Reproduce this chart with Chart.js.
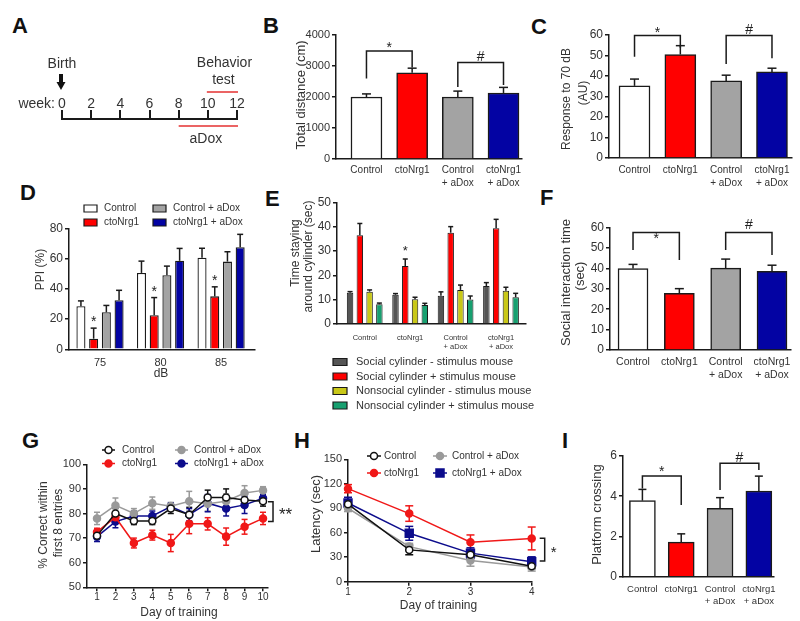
<!DOCTYPE html>
<html>
<head>
<meta charset="utf-8">
<title>ctoNrg1 behaviour panels</title>
<script src="https://cdn.jsdelivr.net/npm/chart.js@4.4.1/dist/chart.umd.min.js"></script>
<style>
  body { margin: 0; background: #fff; }
  #page { position: relative; width: 800px; height: 621px; overflow: hidden; background: #fff; }
  .panel { position: absolute; }
  .letter { position: absolute; font: bold 22px/22px 'Liberation Sans', Arial, sans-serif; color: #111; }
</style>
</head>
<body>
<div id="page">
  <div class="letter" style="left:12px;top:15px">A</div>
  <div class="letter" style="left:263px;top:15px">B</div>
  <div class="letter" style="left:531px;top:16px">C</div>
  <div class="letter" style="left:20px;top:182px">D</div>
  <div class="letter" style="left:265px;top:188px">E</div>
  <div class="letter" style="left:540px;top:187px">F</div>
  <div class="letter" style="left:22px;top:430px">G</div>
  <div class="letter" style="left:294px;top:430px">H</div>
  <div class="letter" style="left:562px;top:430px">I</div>
</div>
<script>
// ---------- data ----------

// A: timeline in weeks
const weekTicks = [0, 2, 4, 6, 8, 10, 12]
const birthWeek = 0
const testWeeks = [10, 12]
const aDoxWeeks = [8, 12]

// the four groups
const groups = ['Control', 'ctoNrg1', 'Control + aDox', 'ctoNrg1 + aDox']
const groupTicks = [['Control'], ['ctoNrg1'], ['Control', '+ aDox'], ['ctoNrg1', '+ aDox']]
const groupIndex = [0, 1, 2, 3]

// B: total distance (cm)
const distMean = [2000, 2780, 2000, 2130]
const distSem = [100, 150, 190, 180]
const distBrackets = [
  {from: 0, to: 1, top: 3480, left: 2600, right: 2950, mark: '*', markAt: 3680},
  {from: 2, to: 3, top: 3110, left: 2320, right: 2390, mark: '#', markAt: 3300}
]

// C: response to 70 dB (AU)
const startleMean = [35.2, 50.5, 37.6, 42]
const startleSem = [3.3, 4.3, 2.8, 1.8]
const startleBrackets = [
  {from: 0, to: 1, top: 59.7, left: 49.4, right: 53.8, mark: '*', markAt: 62.4},
  {from: 2, to: 3, top: 59.7, left: 45.9, right: 48.6, mark: '#', markAt: 62.6}
]

// D: PPI (%)
const dbLevels = [75, 80, 85]
const ppiControl = [28.5, 50.5, 60.5]
const ppiCto = [7, 22.5, 35]
const ppiControlDox = [24.5, 49, 58]
const ppiCtoDox = [32.5, 58.5, 67.5]
const ppiControlSem = [3.5, 7.8, 6.3]
const ppiCtoSem = [7, 11.7, 6.3]
const ppiControlDoxSem = [4.5, 6, 6.5]
const ppiCtoDoxSem = [6.5, 8.2, 8.5]
const ppiCtoSig = [true, true, true]

// E: time around cylinder (sec)
const cylinderSeries = ['Social cylinder - stimulus mouse', 'Social cylinder + stimulus mouse',
  'Nonsocial cylinder - stimulus mouse', 'Nonsocial cylinder + stimulus mouse']
const socialEmpty = [12.8, 12, 11.6, 15.6]
const socialMouse = [36.5, 23.8, 37.5, 39.3]
const nonsocialEmpty = [13.3, 10.2, 14, 13.7]
const nonsocialMouse = [8.1, 7.8, 10.1, 11]
const socialEmptySem = [0.5, 0.5, 1.6, 1.4]
const socialMouseSem = [4.8, 2.9, 2.5, 3.7]
const nonsocialEmptySem = [0.7, 0.8, 2, 1.4]
const nonsocialMouseSem = [0.5, 0.7, 1.4, 1.6]
const socialMouseSig = [false, true, false, false]

// F: social interaction time (sec)
const socialTimeMean = [40, 27.8, 40.2, 38.6]
const socialTimeSem = [2, 2.3, 4.4, 3]
const socialTimeBrackets = [
  {from: 0, to: 1, top: 57.7, left: 49, right: 44.2, mark: '*', markAt: 55.7},
  {from: 2, to: 3, top: 57.7, left: 49, right: 46.6, mark: '#', markAt: 61.3}
]

// G: % correct within first 8 entries
const mazeDays = [1, 2, 3, 4, 5, 6, 7, 8, 9, 10]
const mazeControl = [71, 80, 77, 77, 82, 79.5, 86.5, 86.5, 85.5, 85]
const mazeCto = [72.5, 78.5, 68, 71.2, 68, 75.8, 75.8, 70.6, 74.6, 78]
const mazeControlDox = [78, 83.3, 80, 84.2, 83, 85, 84, 85, 88.3, 89.4]
const mazeCtoDox = [70.6, 76.7, 79, 79, 82.8, 79.5, 84.2, 82, 83.5, 86.2]
const mazeControlSem = [1.5, 2, 1.5, 1.5, 2, 3, 3, 3.5, 3, 2]
const mazeCtoSem = [1.5, 2, 2, 2, 3.5, 4, 2.5, 3.5, 3, 2.5]
const mazeControlDoxSem = [2.5, 3, 2, 2.5, 1.5, 4, 3, 3, 3, 1.5]
const mazeCtoDoxSem = [2, 2.5, 2, 2, 1.5, 2.5, 3.5, 3, 3.5, 1.5]
const mazeBracket = [84.8, 76.7]

// H: latency (sec)
const waterDays = [1, 2, 3, 4]
const latControl = [95, 39, 33, 19]
const latCto = [114, 83.5, 48.3, 53]
const latControlDox = [90, 43, 26, 18]
const latCtoDox = [96.5, 59.3, 35, 24.5]
const latControlSem = [5, 6, 4, 3]
const latCtoSem = [5, 9.5, 9, 14]
const latControlDoxSem = [4, 4, 7, 5]
const latCtoDoxSem = [7, 8.5, 6.5, 6]
const latBracket = [53.2, 25.4]

// I: platform crossing
const crossMean = [3.78, 1.72, 3.4, 4.26]
const crossSem = [0.56, 0.41, 0.53, 0.74]
const crossBrackets = [
  {from: 0, to: 1, top: 5.0, left: 4.39, right: 3.56, mark: '*', markAt: 5.34},
  {from: 2, to: 3, top: 5.64, left: 4.31, right: 5.3, mark: '#', markAt: 5.88}
]

// ---------- style ----------
const INK = '#1a1a1a'
const TXT = '#333'
const groupColors = ['#ffffff', '#ff0000', '#a3a3a3', '#0303a3']
const lineColors = ['#111111', '#f01818', '#9a9a9a', '#0c0c8c']
const cylinderColors = ['#555555', '#ff0000', '#c9c818', '#17a070']

Chart.defaults.font.family = "'Liberation Sans', Arial, sans-serif"
Chart.defaults.color = TXT
Chart.defaults.animation = false
Chart.defaults.events = []
Chart.defaults.plugins.legend.display = false
Chart.defaults.plugins.tooltip.enabled = false

const page = document.getElementById('page')

// ---------- drawing helpers ----------
function txt(ctx, s, x, y, size, o = {}) {
  ctx.save()
  ctx.font = (o.bold ? 'bold ' : '') + size + "px 'Liberation Sans', Arial, sans-serif"
  ctx.fillStyle = o.color || TXT
  ctx.textAlign = o.align || 'center'
  ctx.textBaseline = 'middle'
  ctx.translate(x, y)
  if (o.vertical) ctx.rotate(-Math.PI / 2)
  ctx.fillText(s, 0, 0)
  ctx.restore()
}

function seg(ctx, x1, y1, x2, y2, color, w) {
  ctx.beginPath()
  ctx.moveTo(x1, y1)
  ctx.lineTo(x2, y2)
  ctx.strokeStyle = color || INK
  ctx.lineWidth = w || 1.5
  ctx.stroke()
}

function mark(ctx, s, x, y, size) {
  // asterisks sit high in the em box, push them down so the glyph centre is at y
  const dy = s[0] === '*' ? size * 0.22 : 0
  txt(ctx, s, x, y + dy, size, {color: '#222'})
}

function titles(ctx, lines, size) {
  lines.forEach(l => txt(ctx, l.t, l.x, l.y, size, {vertical: true}))
}

function barErrors(ctx, s, chart, sems, cap) {
  sems.forEach((sem, i) => {
    chart.getDatasetMeta(i).data.forEach((bar, j) => {
      const x = bar.x + s.ox
      const yTop = s.y(chart.data.datasets[i].data[j].y + sem[j])
      seg(ctx, x, bar.y + s.oy, x, yTop)
      seg(ctx, x - cap / 2, yTop, x + cap / 2, yTop)
    })
  })
}

function starsOver(ctx, s, chart, ds, flags, sem, gap, size) {
  chart.getDatasetMeta(ds).data.forEach((bar, j) => {
    if (!flags[j]) return
    const yTop = s.y(chart.data.datasets[ds].data[j].y + sem[j])
    mark(ctx, '*', bar.x + s.ox, yTop - gap, size)
  })
}

function pointErrors(ctx, s, chart, sems, cap) {
  sems.forEach((sem, i) => {
    const color = chart.data.datasets[i].borderColor
    chart.data.datasets[i].data.forEach((p, j) => {
      const x = s.x(p.x), y1 = s.y(p.y + sem[j]), y2 = s.y(p.y - sem[j])
      seg(ctx, x, y1, x, y2, color)
      seg(ctx, x - cap / 2, y1, x + cap / 2, y1, color)
      seg(ctx, x - cap / 2, y2, x + cap / 2, y2, color)
    })
  })
}

function drawBrackets(ctx, s, list, size) {
  list.forEach(b => {
    const x1 = s.x(b.from), x2 = s.x(b.to), yl = s.y(b.top)
    ctx.beginPath()
    ctx.moveTo(x1, s.y(b.left))
    ctx.lineTo(x1, yl)
    ctx.lineTo(x2, yl)
    ctx.lineTo(x2, s.y(b.right))
    ctx.strokeStyle = INK
    ctx.lineWidth = 1.5
    ctx.stroke()
    mark(ctx, b.mark, (x1 + x2) / 2, s.y(b.markAt), size)
  })
}

function sideBracket(ctx, s, xv, range, dx1, dx2, label, dxl, size) {
  const x = s.x(xv)
  const yA = s.y(range[0]), yB = s.y(range[1])
  ctx.beginPath()
  ctx.moveTo(x + dx1, yA)
  ctx.lineTo(x + dx2, yA)
  ctx.lineTo(x + dx2, yB)
  ctx.lineTo(x + dx1, yB)
  ctx.strokeStyle = INK
  ctx.lineWidth = 1.5
  ctx.stroke()
  mark(ctx, label, x + dxl, (yA + yB) / 2, size)
}

function boxKey(ctx, x, y, w, h, fill, label, tx, size) {
  ctx.beginPath()
  ctx.rect(x, y - h / 2, w, h)
  ctx.fillStyle = fill
  ctx.fill()
  ctx.strokeStyle = INK
  ctx.lineWidth = 1.2
  ctx.stroke()
  txt(ctx, label, tx, y, size, {align: 'left'})
}

function marker(ctx, style, x, y, r, fill, stroke) {
  ctx.beginPath()
  if (style === 'rect') ctx.rect(x - r, y - r, 2 * r, 2 * r)
  else ctx.arc(x, y, r, 0, Math.PI * 2)
  ctx.fillStyle = fill
  ctx.fill()
  ctx.strokeStyle = stroke
  ctx.lineWidth = 1.5
  ctx.stroke()
}

function lineKey(ctx, x1, x2, y, color, style, fill, label, tx, size) {
  seg(ctx, x1, y, x2, y, color, 1.5)
  marker(ctx, style, (x1 + x2) / 2, y, style === 'rect' ? 4 : 3.5, fill, color)
  txt(ctx, label, tx, y, size, {align: 'left'})
}

// ---------- axes ----------
function valAxis(min, max, step, size) {
  return {
    min, max,
    ticks: {stepSize: step, font: {size}, padding: 2, callback: v => String(v)},
    grid: {drawOnChartArea: false, tickLength: 4, color: INK, lineWidth: 1.5},
    border: {color: INK, width: 1.5}
  }
}

function idxAxis(min, max, values, labels, size, pad, marks) {
  return {
    type: 'linear', min, max, offset: false,
    afterBuildTicks: s => { s.ticks = values.map(v => ({value: v})) },
    ticks: {font: {size, lineHeight: 1.25}, padding: pad, autoSkip: false, maxRotation: 0, minRotation: 0,
            callback: (v, i) => labels[i]},
    grid: {display: marks, offset: false, drawOnChartArea: false, tickLength: 4, color: INK, lineWidth: 1.5},
    border: {color: INK, width: 1.5}
  }
}

// box = canvas [left, top, width, height]; area = plot [x0, y0, x1, y1], page pixels
function makePanel(box, area, config, hooks) {
  const [left, top, width, height] = box
  const holder = document.createElement('div')
  holder.className = 'panel'
  holder.style.cssText = `left:${left}px;top:${top}px;width:${width}px;height:${height}px`
  const canvas = document.createElement('canvas')
  canvas.width = width
  canvas.height = height
  holder.appendChild(canvas)
  page.appendChild(holder)

  const o = config.options
  o.responsive = false
  const sc = o.scales
  if (sc.x.position === 'top') {
    o.layout = {padding: {left: area[0] - left, top: 0, right: left + width - area[2], bottom: 0}}
    sc.x.afterFit = s => { s.height = area[1] - top }
  } else {
    o.layout = {padding: {left: 0, top: area[1] - top, right: left + width - area[2], bottom: 0}}
    sc.x.afterFit = s => { s.height = top + height - area[3] }
    sc.y.afterFit = s => { s.width = area[0] - left }
  }

  function paint(chart, fn) {
    const ctx = chart.ctx
    const s = {
      ox: left, oy: top,
      x: v => chart.scales.x.getPixelForValue(v) + left,
      y: v => chart.scales.y.getPixelForValue(v) + top
    }
    ctx.save()
    ctx.translate(-left, -top)
    fn(ctx, s, chart)
    ctx.restore()
  }
  config.plugins = [{
    id: 'extras',
    beforeDatasetsDraw(chart) { if (hooks.under) paint(chart, hooks.under) },
    afterDraw(chart) { if (hooks.over) paint(chart, hooks.over) }
  }]
  return new Chart(canvas, config)
}

function groupBarPanel(box, area, mean, sem, p) {
  return makePanel(box, area, {
    type: 'bar',
    data: {datasets: [{
      data: groupIndex.map(i => ({x: i, y: mean[i]})),
      backgroundColor: groupColors, borderColor: INK, borderWidth: 1.5, barThickness: p.bar
    }]},
    options: {scales: {
      x: idxAxis(p.xr[0], p.xr[1], groupIndex, groupTicks, p.tick, p.pad, false),
      y: valAxis(p.yr[0], p.yr[1], p.yr[2], p.ytick)
    }}
  }, {over: (ctx, s, chart) => {
    barErrors(ctx, s, chart, [sem], p.cap)
    drawBrackets(ctx, s, p.brackets, 14)
    titles(ctx, p.title, p.tsize)
  }})
}

function lineSets(series, days, styles, radius) {
  return series.map((vals, i) => ({
    label: groups[i],
    data: days.map((d, j) => ({x: d, y: vals[j]})),
    borderColor: lineColors[i], borderWidth: 1.5, tension: 0,
    pointStyle: styles[i], pointRadius: styles[i] === 'rect' ? 5.6 : radius,
    pointBackgroundColor: i === 0 ? '#ffffff' : lineColors[i],
    pointBorderColor: lineColors[i], pointBorderWidth: 1.5,
    clip: false
  }))
}

// ---------- A: timeline ----------
makePanel([0, 0, 262, 170], [62, 119, 237, 170], {
  type: 'scatter',
  data: {datasets: []},
  options: {scales: {
    x: {type: 'linear', position: 'top', min: 0, max: 12,
        afterBuildTicks: s => { s.ticks = weekTicks.map(v => ({value: v})) },
        ticks: {font: {size: 14}, padding: -3, autoSkip: false, maxRotation: 0},
        grid: {drawOnChartArea: false, tickLength: 9, color: INK, lineWidth: 2},
        border: {color: INK, width: 2}},
    y: {display: false}
  }}
}, {over: (ctx, s) => {
  const xb = s.x(birthWeek)
  txt(ctx, 'week:', xb - 7, 104, 14, {align: 'right'})
  txt(ctx, 'Birth', xb, 64, 14)
  ctx.fillStyle = '#111'
  ctx.fillRect(xb - 3, 74, 4, 9)
  ctx.beginPath()
  ctx.moveTo(xb - 5.5, 82)
  ctx.lineTo(xb + 3.5, 82)
  ctx.lineTo(xb - 1, 90)
  ctx.closePath()
  ctx.fill()
  const t0 = s.x(testWeeks[0]), t1 = s.x(testWeeks[1])
  seg(ctx, t0 - 1, 92, t1 + 1, 92, '#e53030', 1.5)
  txt(ctx, 'Behavior', (t0 + t1) / 2 + 2, 63, 14)
  txt(ctx, 'test', (t0 + t1) / 2 + 1, 80, 14)
  const a0 = s.x(aDoxWeeks[0]), a1 = s.x(aDoxWeeks[1])
  seg(ctx, a0, 126, a1 + 1, 126, '#e53030', 1.5)
  txt(ctx, 'aDox', (a0 + a1) / 2 - 2, 139, 14)
}})

// ---------- B, C, F, I: single bar groups ----------
groupBarPanel([262, 22, 268, 170], [336, 35, 522, 159], distMean, distSem, {
  bar: 31, xr: [-0.667, 3.405], tick: 10, pad: 1, yr: [0, 4000, 1000], ytick: 11, cap: 9,
  brackets: distBrackets, tsize: 13, title: [{t: 'Total distance (cm)', x: 301, y: 95}]
})

groupBarPanel([530, 22, 270, 170], [609, 35, 792, 158], startleMean, startleSem, {
  bar: 31, xr: [-0.557, 3.437], tick: 10, pad: 2, yr: [0, 60, 10], ytick: 12, cap: 9,
  brackets: startleBrackets, tsize: 12,
  title: [{t: 'Response to 70 dB', x: 567, y: 99}, {t: '(AU)', x: 584, y: 93}]
})

groupBarPanel([545, 195, 255, 200], [610, 227.7, 791, 350], socialTimeMean, socialTimeSem, {
  bar: 30, xr: [-0.497, 3.41], tick: 10.5, pad: 1.5, yr: [0, 60, 10], ytick: 12, cap: 9,
  brackets: socialTimeBrackets, tsize: 13,
  title: [{t: 'Social interaction time', x: 566, y: 282.5}, {t: '(sec)', x: 580, y: 276}]
})

groupBarPanel([562, 440, 238, 181], [623, 456, 774, 576.7], crossMean, crossSem, {
  bar: 26, xr: [-0.5, 3.39], tick: 9.5, pad: 2.5, yr: [0, 6, 2], ytick: 12, cap: 8,
  brackets: crossBrackets, tsize: 13, title: [{t: 'Platform crossing', x: 597.5, y: 514.5}]
})

// ---------- D: PPI ----------
const ppiSeries = [ppiControl, ppiCto, ppiControlDox, ppiCtoDox]
const ppiSems = [ppiControlSem, ppiCtoSem, ppiControlDoxSem, ppiCtoDoxSem]
makePanel([0, 195, 265, 195], [69, 228.3, 255, 349.3], {
  type: 'bar',
  data: {datasets: ppiSeries.map((m, i) => ({
    label: groups[i],
    data: dbLevels.map((d, j) => ({x: d, y: m[j]})),
    backgroundColor: groupColors[i], borderColor: INK, borderWidth: 1.3,
    categoryPercentage: 0.84, barPercentage: 0.71
  }))},
  options: {scales: {
    x: idxAxis(72.44, 87.8, dbLevels, dbLevels.map(String), 11, 3, false),
    y: valAxis(0, 80, 20, 12)
  }}
}, {over: (ctx, s, chart) => {
  barErrors(ctx, s, chart, ppiSems, 6)
  starsOver(ctx, s, chart, 1, ppiCtoSig, ppiCtoSem, 9, 14)
  groups.forEach((g, i) => {
    const col = Math.floor(i / 2), row = i % 2
    boxKey(ctx, [84, 153][col], [208.5, 222.5][row], 13, 7, groupColors[i], g, [104, 173][col], 10)
  })
  titles(ctx, [{t: 'PPI (%)', x: 41, y: 269.5}], 12)
  txt(ctx, 'dB', 161, 374, 12)
}})

// ---------- E: three chamber ----------
const cylinderData = [socialEmpty, socialMouse, nonsocialEmpty, nonsocialMouse]
const cylinderSems = [socialEmptySem, socialMouseSem, nonsocialEmptySem, nonsocialMouseSem]
makePanel([280, 190, 260, 230], [337, 202.3, 526, 324], {
  type: 'bar',
  data: {datasets: cylinderData.map((m, i) => ({
    label: cylinderSeries[i],
    data: groupIndex.map(g => ({x: g, y: m[g]})),
    backgroundColor: cylinderColors[i], borderColor: INK, borderWidth: 1,
    categoryPercentage: 0.86, barPercentage: 0.66
  }))},
  options: {scales: {
    x: idxAxis(-0.61, 3.55, groupIndex, groupTicks, 7.5, 5, false),
    y: valAxis(0, 50, 10, 12)
  }}
}, {over: (ctx, s, chart) => {
  barErrors(ctx, s, chart, cylinderSems, 5)
  starsOver(ctx, s, chart, 1, socialMouseSig, socialMouseSem, 10.5, 13)
  cylinderSeries.forEach((name, i) => {
    boxKey(ctx, 333, [362, 376.5, 391, 405.5][i], 14, 7, cylinderColors[i], name, 356, 11)
  })
  titles(ctx, [{t: 'Time staying', x: 296, y: 253}, {t: 'around cylinder (sec)', x: 309, y: 256.5}], 12)
}})

// ---------- G: radial arm maze ----------
const mazeSeries = [mazeControl, mazeCto, mazeControlDox, mazeCtoDox]
const mazeSems = [mazeControlSem, mazeCtoSem, mazeControlDoxSem, mazeCtoDoxSem]
const mazeStyles = ['circle', 'circle', 'circle', 'circle']
makePanel([0, 440, 300, 181], [87, 464.3, 268, 587.3], {
  type: 'line',
  data: {datasets: lineSets(mazeSeries, mazeDays, mazeStyles, 3.5)},
  options: {scales: {
    x: idxAxis(0.458, 10.27, mazeDays, mazeDays.map(String), 10, 0, true),
    y: valAxis(50, 100, 10, 11)
  }}
}, {
  under: (ctx, s, chart) => pointErrors(ctx, s, chart, mazeSems, 6),
  over: (ctx, s) => {
    sideBracket(ctx, s, mazeDays[mazeDays.length - 1], mazeBracket, 5, 10, '**', 22.5, 17)
    groups.forEach((g, i) => {
      const col = Math.floor(i / 2), row = i % 2
      const x1 = [102, 175][col]
      lineKey(ctx, x1, x1 + 13, [450, 463.5][row], lineColors[i], mazeStyles[i],
        i === 0 ? '#ffffff' : lineColors[i], g, [122, 194][col], 10)
    })
    titles(ctx, [{t: '% Correct within', x: 43.5, y: 525}, {t: 'first 8 entries', x: 59, y: 523}], 12)
    txt(ctx, 'Day of training', 179, 612.5, 12)
  }
})

// ---------- H: water maze latency ----------
const latSeries = [latControl, latCto, latControlDox, latCtoDox]
const latSems = [latControlSem, latCtoSem, latControlDoxSem, latCtoDoxSem]
const latStyles = ['circle', 'circle', 'circle', 'rect']
makePanel([300, 440, 262, 181], [348, 459.3, 531.7, 581.7], {
  type: 'line',
  data: {datasets: lineSets(latSeries, waterDays, latStyles, 3.5)},
  options: {scales: {
    x: idxAxis(1, 4, waterDays, waterDays.map(String), 10, 0, true),
    y: valAxis(0, 150, 30, 11)
  }}
}, {
  under: (ctx, s, chart) => pointErrors(ctx, s, chart, latSems, 8),
  over: (ctx, s) => {
    sideBracket(ctx, s, waterDays[waterDays.length - 1], latBracket, 8, 13, '*', 22, 15)
    groups.forEach((g, i) => {
      const col = Math.floor(i / 2), row = i % 2
      const x1 = [367, 433][col]
      lineKey(ctx, x1, x1 + 14, [456, 473][row], lineColors[i], latStyles[i],
        i === 0 ? '#ffffff' : lineColors[i], g, [384, 452][col], 10)
    })
    titles(ctx, [{t: 'Latency (sec)', x: 316, y: 514}], 13)
    txt(ctx, 'Day of training', 438.5, 605.5, 12)
  }
})
</script>
</body>
</html>
